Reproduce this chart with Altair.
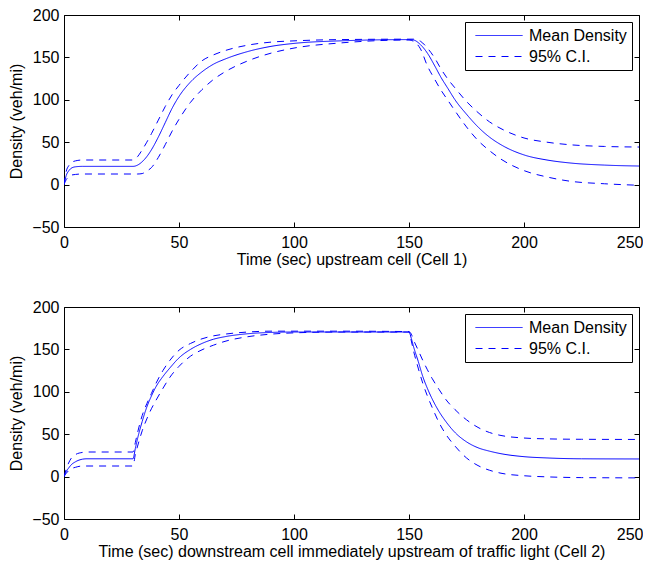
import altair as alt
import pandas as pd

# ---------------- data ----------------
T1 = [0, 1, 2, 3, 5, 8, 30, 32, 34, 36, 38, 41, 44, 47, 50, 55, 60, 65, 70, 80,
      90, 100, 120, 150, 152, 155, 158, 161, 164, 167, 170, 175, 180, 185, 190,
      200, 210, 220, 235, 250]
MEAN1 = [0, 11, 16, 19, 21, 21.5, 21.5, 23, 27, 33, 41, 56, 73, 90, 104, 121, 133,
         142, 148, 157, 163, 166.5, 169.5, 171, 170.5, 165, 155, 141, 126, 113, 100,
         83, 68, 56, 47, 35, 29, 25.5, 23, 21.9]
UPPER1 = [0, 16, 22, 25.5, 28, 29, 29, 33, 41, 50, 60, 76, 92, 106, 117, 133, 146,
          153, 158, 164.5, 168, 169.5, 171, 171.5, 171.5, 169, 161, 150, 136, 124,
          114, 98, 85, 74, 66, 55, 50, 47, 45, 44.3]
LOWER1 = [0, 6, 9, 11, 12, 12.5, 12.5, 12.5, 13, 16, 20, 32, 47, 63, 77, 97, 112,
          124, 133, 146, 155, 161, 167, 170.5, 169, 160, 140, 125, 111, 99, 87, 68,
          52, 40, 30, 16.5, 9, 4, 1, -0.8]

T2 = [0, 1, 2, 3, 5, 8, 10, 30, 31, 32, 34, 36, 38, 40, 43, 46, 50, 55, 60, 65, 70,
      80, 90, 100, 120, 150, 151, 152, 154, 156, 158, 160, 163, 166, 170, 175, 180,
      185, 190, 200, 210, 225, 250]
MEAN2 = [0, 6, 10, 13.5, 17.5, 20.5, 21, 21, 33, 45, 65, 82, 95, 106, 118, 128, 140,
         150, 157, 162, 165, 168.5, 170, 170.5, 170.5, 170.5, 163, 153, 136, 118, 104,
         92, 77, 65, 52, 41, 34, 30, 27, 23.5, 22, 21, 20.8]
UPPER2 = [0, 9, 16, 21, 26, 28.5, 29, 29, 40, 52, 72, 86, 98, 110, 125, 137, 149,
          157, 162.5, 166, 168, 170.5, 171.5, 171.5, 171.5, 171, 168, 161, 149, 137,
          126, 116, 103, 91, 79, 67, 58, 52, 48.5, 45.5, 44.5, 44, 43.8]
LOWER2 = [0, 4, 7, 9, 11, 12.5, 12.5, 12.5, 26, 36, 54, 68, 80, 90, 104, 117, 130,
          142, 149.5, 155, 159.5, 165, 168, 169.5, 170.5, 170.5, 160, 148, 128, 110,
          95, 82, 64, 50, 36, 22, 13, 7.5, 4, 1, -0.3, -1.2, -1.5]

X_TICKS = [0, 50, 100, 150, 200, 250]
Y_TICKS = [-50, 0, 50, 100, 150, 200]
LEGEND_LABELS = ["Mean Density", "95% C.I."]
XTITLE1 = "Time (sec) upstream cell (Cell 1)"
XTITLE2 = "Time (sec) downstream cell immediately upstream of traffic light (Cell 2)"
YTITLE = "Density (veh/mi)"

FONT = "Liberation Sans"
BLUE = "#0000ff"
W, H = 575, 212


def long_df(t, mean, upper, lower):
    rows = []
    for key, vals, kind in [("mean", mean, LEGEND_LABELS[0]),
                            ("upper", upper, LEGEND_LABELS[1]),
                            ("lower", lower, LEGEND_LABELS[1])]:
        for ti, v in zip(t, vals):
            rows.append({"t": ti, "d": v, "series": key, "kind": kind})
    return pd.DataFrame(rows)


xscale = alt.Scale(domain=[0, 250], nice=False, zero=False)
yscale = alt.Scale(domain=[-50, 200], nice=False, zero=False)

AX = dict(labelFont=FONT, titleFont=FONT, labelFontSize=16, titleFontSize=16,
          labelColor="black", titleColor="black", tickColor="black", tickWidth=1,
          titleFontWeight="normal", domain=False, grid=False, offset=-5, tickSize=5)

LAST_X = X_TICKS[-1]


def panel(df, xtitle):
    lines = alt.Chart(df).mark_line(
        color=BLUE, strokeWidth=1, interpolate="monotone", clip=True
    ).encode(
        x=alt.X("t:Q", scale=xscale, axis=alt.Axis(
            orient="bottom", values=X_TICKS, title=xtitle, labelFlush=False,
            labelAlign={"condition": {"test": f"datum.value == {LAST_X}",
                                      "value": "right"}, "value": "center"},
            labelOffset={"condition": {"test": f"datum.value == {LAST_X}",
                                       "value": 4}, "value": 0},
            labelPadding=7, titlePadding=1, **AX)),
        y=alt.Y("d:Q", scale=yscale, axis=alt.Axis(
            orient="left", values=Y_TICKS, title=YTITLE, labelPadding=5,
            titlePadding=7, **AX)),
        detail="series:N",
        strokeDash=alt.StrokeDash(
            "kind:N",
            scale=alt.Scale(domain=LEGEND_LABELS, range=[[1, 0], [7, 6]]),
            legend=alt.Legend(
                title=None, orient="top-right", offset=7, padding=5,
                fillColor="white", strokeColor="black", cornerRadius=0,
                symbolType="M-0.375,0H5.5", symbolSize=256, symbolStrokeWidth=1,
                symbolStrokeColor=BLUE, symbolFillColor="transparent",
                labelOffset=42, labelFontSize=16, labelFont=FONT,
                labelColor="black", rowPadding=4, labelLimit=300,
            ),
        ),
    )
    mirror = alt.Chart(df).mark_line(strokeOpacity=0).encode(
        x=alt.X("t:Q", scale=xscale, axis=alt.Axis(
            orient="top", values=X_TICKS, labels=False, title=None, **AX)),
        y=alt.Y("d:Q", scale=yscale, axis=alt.Axis(
            orient="right", values=Y_TICKS, labels=False, title=None, **AX)),
        detail="series:N",
    )
    return alt.layer(lines, mirror).resolve_axis(
        x="independent", y="independent"
    ).properties(width=W, height=H)


top = panel(long_df(T1, MEAN1, UPPER1, LOWER1), XTITLE1)
bottom = panel(long_df(T2, MEAN2, UPPER2, LOWER2), XTITLE2)

chart = alt.vconcat(top, bottom, spacing=80, bounds="flush").resolve_legend(
    strokeDash="independent"
).properties(
    padding={"left": 0, "top": -2, "right": -1, "bottom": 0},
    background="white",
).configure_view(
    stroke="black", strokeWidth=1
)

chart.save("out.html", embed_options={"renderer": "svg", "actions": False})
